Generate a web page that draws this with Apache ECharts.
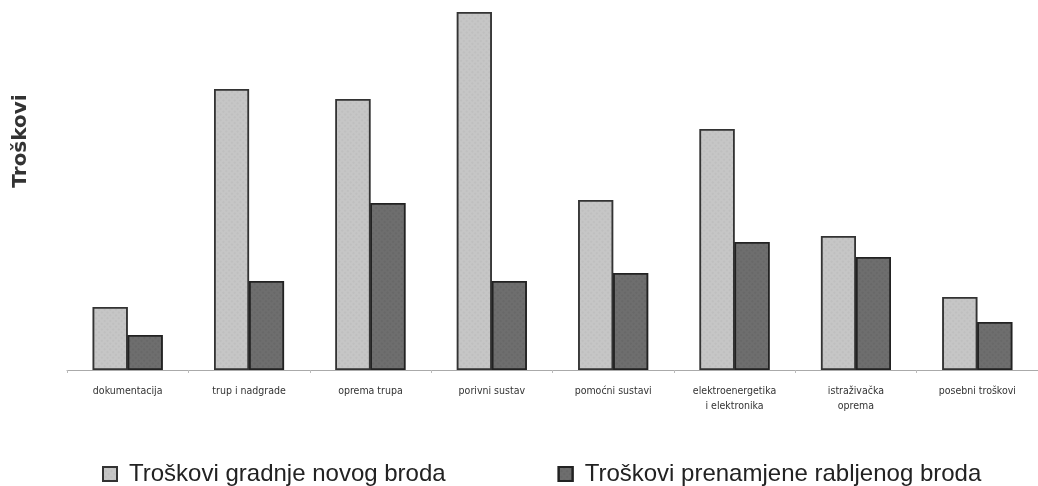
<!DOCTYPE html>
<html>
<head>
<meta charset="utf-8">
<script src="https://cdn.jsdelivr.net/npm/echarts@6/dist/echarts.min.js"></script>
<style>
  html, body { margin: 0; padding: 0; background: #fff; }
  #chart { width: 1038px; height: 486px; }
</style>
</head>
<body>
<div id="chart"></div>
<script>
const categories = [
  'dokumentacija',
  'trup i nadgrade',
  'oprema trupa',
  'porivni sustav',
  'pomoćni sustavi',
  'elektroenergetika\ni elektronika',
  'istraživačka\noprema',
  'posebni troškovi'
];
const novogBroda = [63, 281, 271, 358, 170, 241, 134, 73];
const rabljenogBroda = [35, 89, 167, 89, 97, 128, 113, 48];

const chart = echarts.init(document.getElementById('chart'));

const dots = (c) => ({
  symbol: 'rect',
  symbolSize: 0.5,
  color: c,
  dashArrayX: [2, 2],
  dashArrayY: [2, 2],
  rotation: Math.PI / 4
});

const option = {
  animation: false,
  legend: {
    bottom: -5,
    left: 97,
    itemWidth: 14,
    itemHeight: 14,
    itemGap: 112,
    icon: 'rect',
    textStyle: {
      fontFamily: 'Liberation Sans',
      fontSize: 24,
      color: '#222',
      padding: [0, 0, 0, 7]
    },
    data: ['Troškovi gradnje novog broda', 'Troškovi prenamjene rabljenog broda']
  },
  grid: {
    left: 67,
    width: 980,
    top: 10,
    height: 360
  },
  xAxis: {
    type: 'category',
    data: categories,
    axisLine: { lineStyle: { color: '#aaa', width: 1 } },
    axisTick: { show: true, length: 3, lineStyle: { color: '#bbb' } },
    axisLabel: {
      margin: 14,
      fontFamily: 'DejaVu Sans Condensed',
      fontSize: 10.5,
      color: '#333',
      lineHeight: 15
    }
  },
  yAxis: {
    type: 'value',
    min: 0,
    max: 360,
    name: 'Troškovi',
    nameLocation: 'middle',
    nameGap: 36,
    nameRotate: 90,
    nameTextStyle: {
      fontFamily: 'DejaVu Sans',
      fontWeight: 'bold',
      fontSize: 20,
      color: '#333',
      padding: [0, 0, 0, 98]
    },
    axisLine: { show: false },
    axisTick: { show: false },
    axisLabel: { show: false },
    splitLine: { show: false }
  },
  series: [
    {
      name: 'Troškovi gradnje novog broda',
      type: 'bar',
      data: novogBroda,
      barWidth: 35,
      barGap: '0%',
      itemStyle: {
        color: '#c6c6c6',
        borderColor: '#333',
        borderWidth: 1.5,
        decal: dots('rgba(120,120,120,0.35)')
      }
    },
    {
      name: 'Troškovi prenamjene rabljenog broda',
      type: 'bar',
      data: rabljenogBroda,
      barWidth: 35,
      itemStyle: {
        color: '#6e6e6e',
        borderColor: '#222',
        borderWidth: 1.5,
        decal: dots('rgba(40,40,40,0.35)')
      }
    }
  ]
};

chart.setOption(option);
</script>
</body>
</html>
